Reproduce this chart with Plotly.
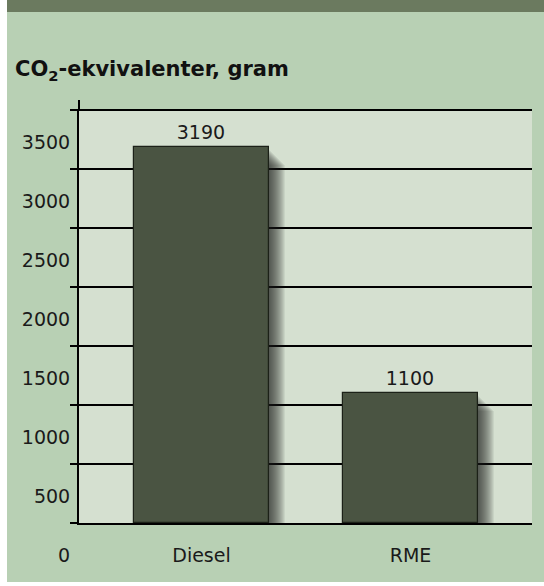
import plotly.graph_objects as go

# data
fuels = ["Diesel", "RME"]
co2_gram = [3190, 1100]
y_ticks = [0, 500, 1000, 1500, 2000, 2500, 3000, 3500]

W, H = 544, 586
L, R, T, B = 79, 12, 109, 63
PW, PH = W - L - R, H - T - B

BG = "#b8d0b4"
PLOT_BG = "#d5e0d0"
BAND = "#6b7a5f"
BAR = "#4a5442"
FONT = "DejaVu Sans"

bar_w = 0.643
y_max = 3512
px_x = PW / 2.167          # px per category unit
px_y = PH / y_max          # px per gram


def px2paper_x(px):
    return (px - L) / PW


def px2paper_y(py):
    return (H - B - py) / PH


fig = go.Figure()

# soft drop shadow: many offset, faint copies of the bars
for d in range(1, 17):
    fig.add_trace(go.Bar(
        x=fuels, y=co2_gram,
        base=[-(d + 2) / px_y] * len(fuels),
        width=bar_w, offset=-bar_w / 2 + d / px_x,
        marker=dict(color="#1f251b", opacity=0.065, line=dict(width=0)),
        hoverinfo="skip", showlegend=False,
    ))

fig.add_trace(go.Bar(
    x=fuels, y=co2_gram, width=bar_w,
    marker=dict(color=BAR, line=dict(color="#1c2118", width=1.2)),
    text=[str(v) for v in co2_gram], textposition="outside",
    textfont=dict(family=FONT, size=19, color="#1a1a1a"),
    cliponaxis=False, showlegend=False,
))

shapes = [
    # white strip on the left, dark band on top, white strip at bottom
    dict(type="rect", xref="paper", yref="paper", x0=px2paper_x(0), x1=px2paper_x(7),
         y0=px2paper_y(H), y1=px2paper_y(0), fillcolor="white", line_width=0, layer="below"),
    dict(type="rect", xref="paper", yref="paper", x0=px2paper_x(7), x1=px2paper_x(W),
         y0=px2paper_y(12), y1=px2paper_y(0), fillcolor=BAND, line_width=0, layer="below"),
    dict(type="rect", xref="paper", yref="paper", x0=px2paper_x(7), x1=px2paper_x(W),
         y0=px2paper_y(H), y1=px2paper_y(582), fillcolor="white", line_width=0, layer="below"),
    # axis line pokes a little above the plot
    dict(type="line", xref="x domain", yref="y domain", x0=0, x1=0, y0=1, y1=1 + 9 / PH,
         line=dict(color="black", width=2)),
]

fig.update_layout(
    width=W, height=H,
    margin=dict(l=L, r=R, t=T, b=B, pad=0),
    paper_bgcolor=BG, plot_bgcolor=PLOT_BG,
    barmode="overlay", bargap=0,
    shapes=shapes,
    font=dict(family=FONT, size=19, color="#1a1a1a"),
    title=dict(
        text="<b>CO<sub>2</sub>-ekvivalenter, gram</b>",
        font=dict(family=FONT, size=21, color="#111111"),
        xref="container", yref="container", x=15 / W, xanchor="left",
        y=1 - 69 / H, yanchor="middle",
    ),
    xaxis=dict(
        range=[-0.586, 1.581], showgrid=False, zeroline=False,
        showline=True, linecolor="black", linewidth=2,
        ticks="", ticklabelstandoff=14,
        tickfont=dict(family=FONT, size=19, color="#1a1a1a"),
    ),
    yaxis=dict(
        range=[0, y_max], tickvals=y_ticks, ticktext=[str(t) for t in y_ticks],
        showgrid=True, gridcolor="black", gridwidth=2, zeroline=False,
        showline=True, linecolor="black", linewidth=2,
        ticks="outside", ticklen=7, tickwidth=2, tickcolor="black",
        ticklabelshift=32, ticklabelstandoff=-4,
        tickfont=dict(family=FONT, size=19, color="#1a1a1a"),
    ),
)

# drop the page's default 8px body margin so the figure sits at the corner
fig.write_html("out.html", config={"displayModeBar": False},
               post_script="document.body.style.margin='0';")
